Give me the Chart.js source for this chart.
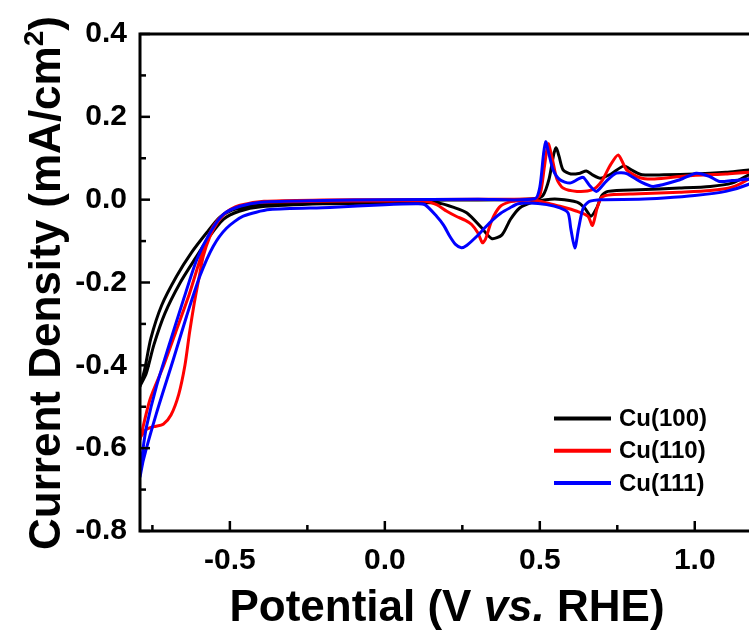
<!DOCTYPE html>
<html>
<head>
<meta charset="utf-8">
<script src="https://cdn.jsdelivr.net/npm/chart.js@4.4.0/dist/chart.umd.min.js"></script>
<style>
  html, body { margin: 0; padding: 0; background: #fff; }
  #wrap { width: 749px; height: 631px; }
</style>
</head>
<body>
<div id="wrap"><canvas id="cv" width="749" height="631"></canvas></div>
<script>
// ejes
const xTicks = [-0.5, 0.0, 0.5, 1.0];
const xMinor = [-0.75, -0.25, 0.25, 0.75];
const yTicks = [-0.8, -0.6, -0.4, -0.2, 0.0, 0.2, 0.4];
const yMinor = [-0.7, -0.5, -0.3, -0.1, 0.1, 0.3];

const seriesNames = ['Cu(100)', 'Cu(110)', 'Cu(111)'];
const seriesColors = ['#000000', '#ff0000', '#0000ff'];

// Cu(100): barrido anódico y luego catódico (V, mA/cm2)
const cu100V = [-0.79, -0.775, -0.755, -0.72, -0.672, -0.624, -0.575, -0.532, -0.48, -0.40, -0.2, 0.0, 0.2, 0.4, 0.48, 0.51, 0.53, 0.545, 0.553, 0.562, 0.575, 0.6, 0.63, 0.65, 0.67, 0.695, 0.73, 0.77, 0.8, 0.83, 0.9, 1.0, 1.1, 1.2,
  1.17, 1.12, 1.05, 0.95, 0.82, 0.72, 0.7, 0.685, 0.665, 0.645, 0.62, 0.56, 0.52, 0.478, 0.435, 0.405, 0.378, 0.345, 0.31, 0.265, 0.22, 0.18, 0.1, 0.0, -0.2, -0.4, -0.47, -0.52, -0.565, -0.61, -0.66, -0.71, -0.745, -0.77, -0.79];
const cu100J = [-0.452, -0.41, -0.335, -0.255, -0.185, -0.128, -0.08, -0.042, -0.022, -0.012, -0.008, -0.004, -0.001, 0.0, 0.002, 0.01, 0.05, 0.11, 0.125, 0.105, 0.072, 0.062, 0.064, 0.069, 0.06, 0.052, 0.062, 0.081, 0.07, 0.06, 0.06, 0.062, 0.066, 0.072,
  0.058, 0.04, 0.032, 0.028, 0.024, 0.02, 0.01, -0.018, -0.04, -0.02, -0.006, 0.001, 0.0, -0.006, -0.02, -0.048, -0.085, -0.094, -0.066, -0.032, -0.018, -0.009, -0.007, -0.008, -0.01, -0.017, -0.028, -0.047, -0.088, -0.14, -0.2, -0.275, -0.35, -0.42, -0.45];

// Cu(110)
const cu110V = [-0.79, -0.77, -0.745, -0.715, -0.69, -0.665, -0.645, -0.63, -0.615, -0.6, -0.586, -0.565, -0.54, -0.51, -0.46, -0.39, -0.2, 0.0, 0.3, 0.48, 0.5, 0.515, 0.527, 0.54, 0.555, 0.575, 0.62, 0.67, 0.7, 0.725, 0.753, 0.78, 0.823, 0.87, 0.97, 1.1, 1.2,
  1.17, 1.12, 1.05, 0.95, 0.82, 0.73, 0.7, 0.685, 0.67, 0.655, 0.62, 0.565, 0.522, 0.49, 0.44, 0.4, 0.37, 0.345, 0.325, 0.315, 0.3, 0.28, 0.26, 0.23, 0.2, 0.167, 0.13, 0.0, -0.2, -0.4, -0.47, -0.52, -0.554, -0.586, -0.63, -0.672, -0.715, -0.758, -0.79];
const cu110J = [-0.575, -0.555, -0.548, -0.542, -0.52, -0.47, -0.4, -0.32, -0.25, -0.19, -0.137, -0.09, -0.055, -0.03, -0.013, -0.004, -0.001, 0.0, 0.001, 0.002, 0.01, 0.08, 0.135, 0.1, 0.05, 0.028, 0.02, 0.024, 0.045, 0.08, 0.108, 0.072, 0.053, 0.05, 0.057, 0.062, 0.066,
  0.048, 0.03, 0.022, 0.018, 0.014, 0.012, 0.006, -0.02, -0.062, -0.04, -0.028, -0.016, -0.008, -0.002, -0.002, -0.006, -0.018, -0.05, -0.095, -0.104, -0.08, -0.06, -0.05, -0.04, -0.028, -0.012, -0.004, -0.003, -0.004, -0.006, -0.014, -0.035, -0.065, -0.121, -0.226, -0.314, -0.403, -0.483, -0.58];

// Cu(111)
const cu111V = [-0.79, -0.78, -0.769, -0.737, -0.694, -0.65, -0.607, -0.565, -0.522, -0.468, -0.4, -0.2, 0.0, 0.3, 0.484, 0.5, 0.512, 0.519, 0.528, 0.543, 0.565, 0.597, 0.625, 0.64, 0.66, 0.683, 0.715, 0.747, 0.78, 0.823, 0.866, 0.952, 1.005, 1.048, 1.08, 1.12, 1.2,
  1.17, 1.1, 1.0, 0.9, 0.82, 0.7, 0.66, 0.64, 0.625, 0.613, 0.6, 0.591, 0.565, 0.522, 0.468, 0.43, 0.403, 0.375, 0.349, 0.32, 0.296, 0.265, 0.247, 0.228, 0.21, 0.19, 0.167, 0.129, 0.1, 0.0, -0.177, -0.371, -0.457, -0.511, -0.554, -0.597, -0.64, -0.683, -0.737, -0.779, -0.79];
const cu111J = [-0.665, -0.6, -0.548, -0.451, -0.346, -0.242, -0.145, -0.081, -0.036, -0.016, -0.006, -0.002, 0.0, 0.001, 0.002, 0.03, 0.11, 0.14, 0.115, 0.072, 0.048, 0.04, 0.05, 0.054, 0.035, 0.02, 0.045, 0.064, 0.063, 0.044, 0.032, 0.048, 0.064, 0.056, 0.044, 0.046, 0.05,
  0.036, 0.02, 0.01, 0.004, 0.001, 0.0, -0.004, -0.02, -0.07, -0.117, -0.07, -0.032, -0.02, -0.012, -0.008, -0.01, -0.02, -0.032, -0.048, -0.07, -0.089, -0.11, -0.116, -0.108, -0.089, -0.062, -0.04, -0.012, -0.01, -0.012, -0.019, -0.024, -0.04, -0.069, -0.113, -0.185, -0.282, -0.387, -0.516, -0.628, -0.67];

const FONT = '"Liberation Sans", Arial, sans-serif';

function toPts(vs, js) {
  return vs.map((v, i) => ({ x: v, y: js[i] }));
}

// texto con varios estilos (cursiva, superíndice)
function drawRuns(ctx, runs, cx, cy) {
  let total = 0;
  runs.forEach(r => { ctx.font = r.f; r.w = ctx.measureText(r.t).width; total += r.w; });
  let px = cx - total / 2;
  runs.forEach(r => {
    ctx.font = r.f;
    ctx.fillText(r.t, px, cy + (r.dy || 0));
    px += r.w;
  });
}

const decor = {
  id: 'decor',
  afterDraw(chart) {
    const { ctx, chartArea: a, scales: { x, y } } = chart;
    ctx.save();
    ctx.strokeStyle = '#000';
    ctx.fillStyle = '#000';

    // marco
    ctx.lineWidth = 3;
    ctx.beginPath();
    ctx.moveTo(a.right + 5, a.top);
    ctx.lineTo(a.left, a.top);
    ctx.lineTo(a.left, a.bottom);
    ctx.lineTo(a.right + 5, a.bottom);
    ctx.stroke();

    // marcas hacia dentro
    ctx.lineWidth = 2.5;
    const tick = (px, py, dx, dy) => {
      ctx.beginPath(); ctx.moveTo(px, py); ctx.lineTo(px + dx, py + dy); ctx.stroke();
    };
    xTicks.forEach(v => tick(x.getPixelForValue(v), a.bottom, 0, -10));
    xMinor.forEach(v => tick(x.getPixelForValue(v), a.bottom, 0, -6));
    yTicks.forEach(v => tick(a.left, y.getPixelForValue(v), 10, 0));
    yMinor.forEach(v => tick(a.left, y.getPixelForValue(v), 6, 0));

    // títulos
    ctx.textBaseline = 'alphabetic';
    drawRuns(ctx, [
      { t: 'Potential (V ', f: 'bold 44px ' + FONT },
      { t: 'vs.', f: 'italic bold 44px ' + FONT },
      { t: ' RHE)', f: 'bold 44px ' + FONT }
    ], 447, 621);

    ctx.save();
    ctx.translate(60, 283);
    ctx.rotate(-Math.PI / 2);
    drawRuns(ctx, [
      { t: 'Current Density (mA/cm', f: 'bold 44px ' + FONT },
      { t: '2', f: 'bold 28px ' + FONT, dy: -17 },
      { t: ')', f: 'bold 44px ' + FONT }
    ], 0, 0);
    ctx.restore();

    // leyenda
    ctx.textBaseline = 'middle';
    ctx.font = 'bold 24px ' + FONT;
    ctx.lineWidth = 4;
    chart.data.datasets.forEach((ds, i) => {
      const ly = 418.5 + i * 32.3;
      ctx.strokeStyle = ds.borderColor;
      ctx.beginPath(); ctx.moveTo(554, ly); ctx.lineTo(611, ly); ctx.stroke();
      ctx.fillText(ds.label, 619, ly + 1);
    });
    ctx.restore();
  }
};

const series = [toPts(cu100V, cu100J), toPts(cu110V, cu110J), toPts(cu111V, cu111J)];

new Chart(document.getElementById('cv'), {
  type: 'scatter',
  data: {
    datasets: series.map((pts, i) => ({
      label: seriesNames[i],
      data: pts,
      showLine: true,
      borderColor: seriesColors[i],
      backgroundColor: seriesColors[i],
      borderWidth: 3,
      pointRadius: 0,
      tension: 0.25,
      order: 2 - i
    }))
  },
  options: {
    responsive: false,
    animation: false,
    layout: { padding: { top: 34, right: 0, left: 0, bottom: 0 } },
    plugins: { legend: { display: false }, tooltip: { enabled: false } },
    scales: {
      x: {
        type: 'linear',
        min: -0.79, max: 1.175,
        grid: { display: false, drawTicks: false },
        border: { display: false },
        afterBuildTicks: s => { s.ticks = xTicks.map(v => ({ value: v })); },
        afterFit: s => { s.height = 100; },
        ticks: {
          padding: 12,
          color: '#000',
          font: { family: FONT, size: 30, weight: 'bold' },
          callback: v => Number(v).toFixed(1)
        }
      },
      y: {
        type: 'linear',
        min: -0.8, max: 0.4,
        grid: { display: false, drawTicks: false },
        border: { display: false },
        afterBuildTicks: s => { s.ticks = yTicks.map(v => ({ value: v })); },
        afterFit: s => { s.width = 140; },
        ticks: {
          padding: 13,
          color: '#000',
          font: { family: FONT, size: 30, weight: 'bold' },
          callback: v => Number(v).toFixed(1)
        }
      }
    }
  },
  plugins: [decor]
});
</script>
</body>
</html>
